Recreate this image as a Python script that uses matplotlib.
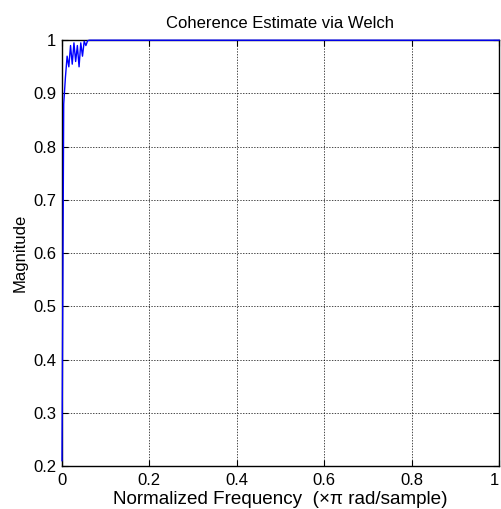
import numpy as np
import matplotlib.pyplot as plt

plt.rcParams['font.family'] = ['Liberation Sans', 'DejaVu Sans']

# Welch coherence estimate, 512-point FFT -> 257 one-sided bins
n_bins = 257
freq = np.linspace(0, 1, n_bins)

# low-frequency bins where the estimate ripples below 1
coh_head = [0.21, 0.88, 0.93, 0.97, 0.95, 0.99, 0.955, 0.995, 0.96,
            0.99, 0.95, 0.995, 0.97, 0.998, 0.99, 0.999]
coh_tail = [1.0] * (n_bins - len(coh_head))
coherence = np.array(coh_head + coh_tail)

yticks = [0.2, 0.3, 0.4, 0.5, 0.6, 0.7, 0.8, 0.9, 1]
xticks = [0, 0.2, 0.4, 0.6, 0.8, 1]

fig = plt.figure(figsize=(5.02, 5.09), dpi=100)
ax = fig.add_axes([0.1235, 0.0845, 0.8705, 0.8365])

ax.plot(freq, coherence, color='#0000ff', linewidth=1.0, clip_on=False, zorder=3)

ax.set_xlim(0, 1)
ax.set_ylim(0.2, 1)
ax.set_xticks(xticks)
ax.set_xticklabels(['0', '0.2', '0.4', '0.6', '0.8', '1'])
ax.set_yticks(yticks)
ax.set_yticklabels(['0.2', '0.3', '0.4', '0.5', '0.6', '0.7', '0.8', '0.9', '1'])
# keep the last x label inside the figure
ax.get_xticklabels()[-1].set_horizontalalignment('right')

ax.grid(True, color='black', linestyle=(0, (2, 2)), linewidth=0.5)
ax.tick_params(direction='in', top=True, right=True, labelsize=12, length=4)
ax.tick_params(axis='x', pad=5)
ax.tick_params(axis='y', pad=4)
for s in ax.spines.values():
    s.set_linewidth(1.0)

ax.set_title('Coherence Estimate via Welch', fontsize=12, pad=9)
ax.set_xlabel('Normalized Frequency  (\u00d7\u03c0 rad/sample)', fontsize=13.6, labelpad=2)
ax.set_ylabel('Magnitude', fontsize=12, labelpad=4)

fig.savefig('out.png', dpi=100)
